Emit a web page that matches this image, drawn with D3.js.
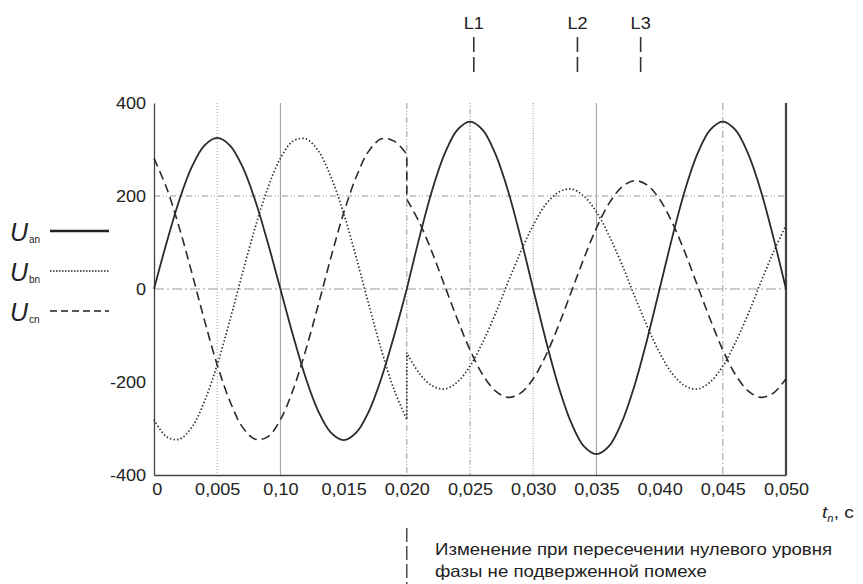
<!DOCTYPE html>
<html>
<head>
<meta charset="utf-8">
<script src="https://cdn.jsdelivr.net/npm/d3@7"></script>
<style>
	body { margin: 0; background: #fff; }
	text { font-family: "Liberation Sans", Arial, sans-serif; fill: #222; }
</style>
</head>
<body>
<div id="chart"></div>
<script>
"use strict";

//
// Data
//
var timeBefore = [0, 0.001, 0.002, 0.003, 0.004, 0.005, 0.006, 0.007, 0.008, 0.009, 0.010,
	0.011, 0.012, 0.013, 0.014, 0.015, 0.016, 0.017, 0.018, 0.019, 0.020];
var timeAfter = [0.020, 0.021, 0.022, 0.023, 0.024, 0.025, 0.026, 0.027, 0.028, 0.029, 0.030,
	0.031, 0.032, 0.033, 0.034, 0.035, 0.036, 0.037, 0.038, 0.039, 0.040,
	0.041, 0.042, 0.043, 0.044, 0.045, 0.046, 0.047, 0.048, 0.049, 0.050];

var uanBefore = [0, 100, 191, 263, 309, 325, 309, 263, 191, 100, 0,
	-100, -191, -263, -309, -325, -309, -263, -191, -100, 0];
var uanAfter = [0, 111, 212, 291, 342, 360, 342, 291, 212, 111, 0,
	-110, -209, -287, -338, -355, -338, -287, -209, -110, 0,
	111, 212, 291, 342, 360, 342, 291, 212, 111, 0];

var ubnBefore = [-281, -318, -323, -297, -241, -163, -68, 34, 132, 217, 281,
	318, 323, 297, 241, 163, 68, -34, -132, -217, -281];
var ubnAfter = [-137, -182, -208, -215, -200, -166, -115, -54, 14, 79, 137,
	182, 208, 215, 200, 166, 115, 54, -14, -79, -137,
	-182, -208, -215, -200, -166, -115, -54, 14, 79, 137];

var ucnBefore = [281, 217, 132, 34, -68, -163, -241, -297, -323, -318, -281,
	-217, -132, -34, 68, 163, 241, 297, 323, 318, 290];
var ucnAfter = [193, 143, 79, 7, -65, -131, -184, -219, -233, -224, -193,
	-143, -79, -7, 65, 131, 184, 219, 233, 224, 193,
	143, 79, 7, -65, -131, -184, -219, -233, -224, -193];

var xTicks = [0, 0.005, 0.010, 0.015, 0.020, 0.025, 0.030, 0.035, 0.040, 0.045, 0.050];
var xTickLabels = ["0", "0,005", "0,10", "0,015", "0,020", "0,025", "0,030", "0,035", "0,040", "0,045", "0,050"];
var yTicks = [-400, -200, 0, 200, 400];
var yTickLabels = ["-400", "-200", "0", "200", "400"];

var markerNames = ["L1", "L2", "L3"];
var markerTimes = [0.0253, 0.0335, 0.0385];

var seriesNames = ["an", "bn", "cn"];
var noteLines = ["Изменение при пересечении нулевого уровня", "фазы не подверженной помехе"];
var noteTime = 0.020;

//
// Setup Variables
//
var canvasWidth = 863, canvasHeight = 584;
var margin = { left: 154, top: 103 };
var width = 632, height = 372;
var stretch = 1.13;

var x = d3.scaleLinear().domain([0, 0.050]).range([0, width]);
var y = d3.scaleLinear().domain([-400, 400]).range([height, 0]);

var lineStyles = {
	an: { dash: null, w: 1.8 },
	bn: { dash: "1.4,2.2", w: 1.7 },
	cn: { dash: "9,5", w: 1.6 }
};

//
// Draw Canvas
//
var root = d3.select("#chart")
	.append("svg")
		.attr("width", canvasWidth)
		.attr("height", canvasHeight);

var svg = root.append("g")
		.attr("transform", "translate(" + margin.left + "," + margin.top + ")");

//
// Grid
//
var vGrid = [
	{ t: 0.005, dash: "1,2" },
	{ t: 0.010, dash: null },
	{ t: 0.020, dash: "6,2,1,2,1,2" },
	{ t: 0.025, dash: "1,2,1,2,5,2" },
	{ t: 0.030, dash: "1,1.5" },
	{ t: 0.035, dash: null },
	{ t: 0.045, dash: "7,3,1,3" }
];
svg.selectAll(".vgrid")
	.data(vGrid)
  .enter().append("line")
	.attr("x1", function(d) { return x(d.t); })
	.attr("x2", function(d) { return x(d.t); })
	.attr("y1", 0).attr("y2", height)
	.attr("stroke", "#999")
	.attr("stroke-width", 1)
	.attr("stroke-dasharray", function(d) { return d.dash; });

var hGrid = [
	{ v: 200, dash: "6,3,1,2,1,3" },
	{ v: 0, dash: "10,3,2,3" }
];
svg.selectAll(".hgrid")
	.data(hGrid)
  .enter().append("line")
	.attr("x1", 0).attr("x2", width)
	.attr("y1", function(d) { return y(d.v); })
	.attr("y2", function(d) { return y(d.v); })
	.attr("stroke", "#999")
	.attr("stroke-width", 1)
	.attr("stroke-dasharray", function(d) { return d.dash; });

//
// Axes
//
var xAxis = d3.axisBottom(x).tickValues(xTicks)
	.tickFormat(function(d, i) { return xTickLabels[i]; })
	.tickSize(0).tickPadding(9);
var gx = svg.append("g")
	.attr("transform", "translate(0," + height + ")")
	.call(xAxis);
gx.select(".domain").attr("stroke", "#444").attr("stroke-width", 1.3);
gx.selectAll("text").attr("font-size", 16).attr("fill", "#222")
	.attr("transform", "scale(" + stretch + ",1)");
gx.selectAll(".tick").filter(function(d) { return d === 0; }).select("text").attr("dx", "0.15em");

var yAxis = d3.axisLeft(y).tickValues(yTicks)
	.tickFormat(function(d, i) { return yTickLabels[i]; })
	.tickSize(0).tickPadding(7);
var gy = svg.append("g").call(yAxis);
gy.select(".domain").attr("stroke", "#444").attr("stroke-width", 1.3);
gy.selectAll("text").attr("font-size", 16).attr("fill", "#222")
	.attr("transform", "scale(" + stretch + ",1)");

// right border
svg.append("line")
	.attr("x1", x(0.050)).attr("x2", x(0.050))
	.attr("y1", 0).attr("y2", height)
	.attr("stroke", "#444").attr("stroke-width", 2.2);

//
// Phase voltages
//
var line = d3.line()
	.x(function(d) { return x(d[0]); })
	.y(function(d) { return y(d[1]); })
	.curve(d3.curveCatmullRom.alpha(0.5));

function pathFor(before, after) {
	var a = line(d3.zip(timeBefore, before));
	var b = line(d3.zip(timeAfter, after));
	return a + "L" + b.substring(1);
}

var series = [
	{ key: "an", d: pathFor(uanBefore, uanAfter) },
	{ key: "bn", d: pathFor(ubnBefore, ubnAfter) },
	{ key: "cn", d: pathFor(ucnBefore, ucnAfter) }
];
svg.selectAll(".phase")
	.data(series)
  .enter().append("path")
	.attr("d", function(d) { return d.d; })
	.attr("fill", "none")
	.attr("stroke", "#2b2b2b")
	.attr("stroke-width", function(d) { return lineStyles[d.key].w; })
	.attr("stroke-dasharray", function(d) { return lineStyles[d.key].dash; });

//
// Legend
//
var legend = root.selectAll(".legend")
	.data(seriesNames)
  .enter().append("g")
	.attr("transform", function(d, i) { return "translate(0," + [231, 271, 311][i] + ")"; });
var lt = legend.append("text")
	.attr("x", 10).attr("y", 10)
	.attr("font-size", 25);
lt.append("tspan").attr("font-style", "italic").text("U");
lt.append("tspan")
	.attr("font-size", 10).attr("dx", 1).attr("dy", 2)
	.text(function(d) { return d; });
legend.append("line")
	.attr("x1", 50).attr("x2", 109)
	.attr("stroke", "#222")
	.attr("stroke-width", function(d) { return d === "an" ? 2.6 : 1.4; })
	.attr("stroke-dasharray", function(d) { return d === "bn" ? "1.5,1.5" : d === "cn" ? "7,4" : null; });

//
// L markers
//
var markers = root.selectAll(".marker")
	.data(markerNames)
  .enter().append("g")
	.attr("transform", function(d, i) { return "translate(" + (margin.left + x(markerTimes[i])) + ",0)"; });
markers.append("text")
	.attr("text-anchor", "middle").attr("y", 29)
	.attr("font-size", 16)
	.attr("transform", "scale(" + stretch + ",1)")
	.text(function(d) { return d; });
markers.append("line")
	.attr("y1", 37).attr("y2", 73)
	.attr("stroke", "#333").attr("stroke-width", 1.6)
	.attr("stroke-dasharray", "15,5");

//
// X label
//
var xl = root.append("text")
	.attr("transform", "translate(822,518) scale(" + stretch + ",1)")
	.attr("font-size", 17);
xl.append("tspan").attr("font-style", "italic").text("t");
xl.append("tspan").attr("font-size", 10).attr("font-style", "italic").attr("dy", 4).text("n");
xl.append("tspan").attr("dy", -4).text(", c");

//
// Note
//
var nx = margin.left + x(noteTime);
root.append("line")
	.attr("x1", nx).attr("x2", nx)
	.attr("y1", 528).attr("y2", 584)
	.attr("stroke", "#333").attr("stroke-width", 1.3)
	.attr("stroke-dasharray", "14,4");
root.selectAll(".note")
	.data(noteLines)
  .enter().append("text")
	.attr("transform", function(d, i) { return "translate(435," + (555 + i * 22) + ") scale(" + stretch + ",1)"; })
	.attr("font-size", 16.5)
	.text(function(d) { return d; });
</script>
</body>
</html>
